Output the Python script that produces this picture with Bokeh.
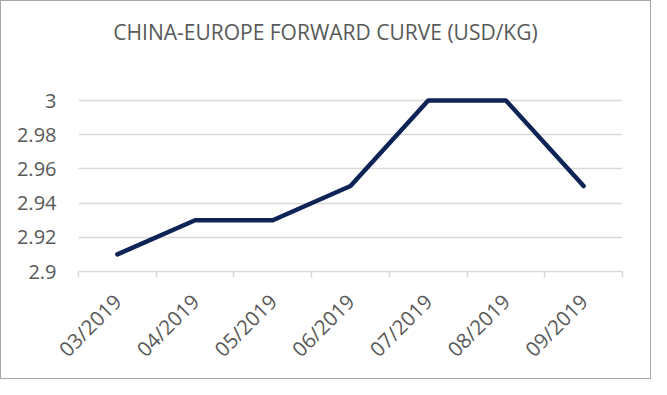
import math
from bokeh.plotting import figure
from bokeh.models import (Range1d, FixedTicker, CustomJSTickFormatter, ColumnDataSource, Div)
from bokeh.layouts import column
from bokeh.embed import file_html
from bokeh.resources import INLINE

# ---- data ----
months = ["03/2019", "04/2019", "05/2019", "06/2019", "07/2019", "08/2019", "09/2019"]
prices = [2.91, 2.93, 2.93, 2.95, 3.00, 3.00, 2.95]
y_ticks = [2.90, 2.92, 2.94, 2.96, 2.98, 3.00]
title_text = "CHINA-EUROPE FORWARD CURVE (USD/KG)"

n = len(months)
centers = [i + 0.5 for i in range(n)]
bounds = [float(i) for i in range(n + 1)]

src = ColumnDataSource(data=dict(x=centers, y=prices, m=months))

font = "Open Sans"
lab_col = "#595959"

W = 649
TOP = 80
H = 377 - TOP

head = Div(text=title_text, width=W, height=TOP,
           styles={"text-align": "center", "font-family": font, "font-size": "21px",
                   "color": lab_col, "line-height": "62px", "margin": "0", "padding": "0"})

p = figure(width=W, height=H, output_backend="svg", toolbar_location=None,
           x_range=Range1d(0, n), y_range=Range1d(2.9, 2.9 + 0.1 * 175 / 171),
           min_border_left=77, min_border_right=28, min_border_top=15, min_border_bottom=107)
p.outline_line_color = None
p.background_fill_color = "white"
p.border_fill_color = "white"

p.line("x", "y", source=src, line_color="#0F2456", line_width=4.5,
       line_cap="round", line_join="round")

# x axis
xa = p.xaxis[0]
xa.ticker = FixedTicker(ticks=centers, minor_ticks=bounds)
xa.formatter = CustomJSTickFormatter(args=dict(labels=months),
                                     code="return labels[Math.round(tick - 0.5)];")
xa.axis_line_color = "#D9D9D9"
xa.axis_line_width = 1.5
xa.major_tick_line_color = None
xa.major_tick_out = 0
xa.major_tick_in = 0
xa.minor_tick_line_color = "#D9D9D9"
xa.minor_tick_line_width = 1.5
xa.minor_tick_out = 6
xa.minor_tick_in = 0
xa.major_label_orientation = math.pi / 4
xa.major_label_standoff = 20
xa.major_label_text_font = font
xa.major_label_text_font_size = "20.5px"
xa.major_label_text_color = lab_col

# y axis
ya = p.yaxis[0]
ya.ticker = FixedTicker(ticks=y_ticks)
ya.formatter = CustomJSTickFormatter(code="return String(parseFloat(tick.toFixed(2)));")
ya.axis_line_color = None
ya.major_tick_line_color = None
ya.minor_tick_line_color = None
ya.major_tick_out = 0
ya.major_tick_in = 0
ya.major_label_standoff = 22
ya.major_label_text_font = font
ya.major_label_text_font_size = "20px"
ya.major_label_text_color = lab_col

p.xgrid.grid_line_color = None
p.ygrid.grid_line_color = "#D9D9D9"
p.ygrid.grid_line_width = 1.5
p.ygrid.ticker = FixedTicker(ticks=y_ticks)

layout = column(head, p, spacing=0)
layout.styles = {"border": "1px solid #A6A6A6", "background-color": "white"}

open("out.html", "w").write(file_html(layout, INLINE))
